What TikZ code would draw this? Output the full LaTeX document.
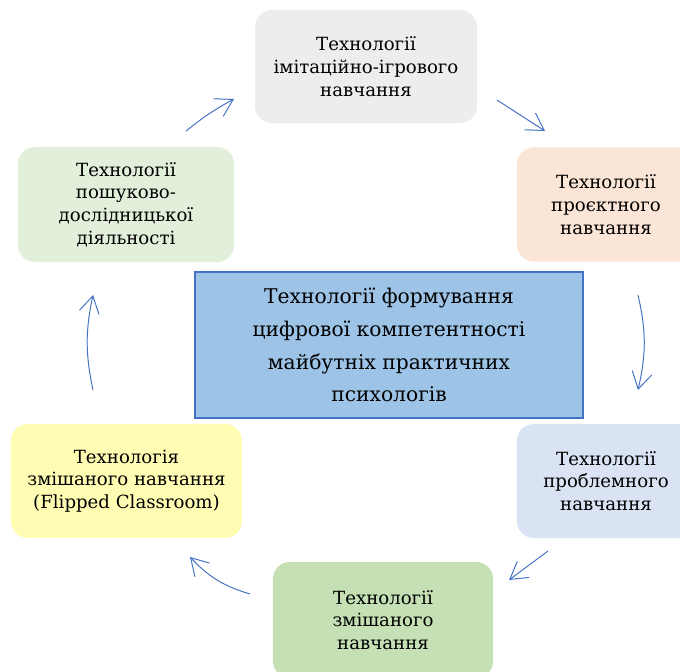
\documentclass[tikz,border=0pt]{standalone}
\usepackage{fontspec}
\setmainfont{DejaVu Serif}
\usetikzlibrary{arrows.meta}
\usepackage{xcolor}

\definecolor{imitfill}{HTML}{EDEDED}
\definecolor{projfill}{HTML}{FBE5D6}
\definecolor{searchfill}{HTML}{E2EFDA}
\definecolor{flipfill}{HTML}{FFFDB3}
\definecolor{problfill}{HTML}{DAE3F3}
\definecolor{blendfill}{HTML}{C5E0B4}
\definecolor{hubfill}{HTML}{9DC3E6}
\definecolor{hubedge}{HTML}{4472C4}
\definecolor{arrowblue}{HTML}{4472C4}

\begin{document}
\begin{tikzpicture}[x=0.025cm, y=0.025cm]
        % ================= 样式定义 =================
        % 圆角卡片:无边框,浅色填充
        \tikzset{
            card/.style={rounded corners=0.42cm, align=center, font=\fontsize{12.9}{16.2}\selectfont, minimum height=2.85cm},
            hub/.style={draw=hubedge, line width=2pt, fill=hubfill, align=center, font=\fontsize{14.4}{23.4}\selectfont},
            flow/.style={draw=arrowblue, line width=0.7pt, -{Straight Barb[length=0.42cm, width=0.5cm]}}
        }

        % ================= 画布范围 =================
        \useasboundingbox (0,0) rectangle (680,-672);
        \clip (0,0) rectangle (680,-672);

        % ================= 绘图部分 =================

        % 中心:蓝色矩形
        \node[hub, minimum width=9.7cm, minimum height=3.65cm] (core) at (389,-345) {Технології формування\\цифрової компетентності\\майбутніх практичних\\психологів};

        % 上方:灰色卡片
        \node[card, fill=imitfill, minimum width=5.55cm, minimum height=2.825cm] (imit) at (366,-66.5) {Технології\\імітаційно-ігрового\\навчання};

        % 右上:桃色卡片
        \node[card, fill=projfill, minimum width=4.45cm] (proj) at (606,-204.5) {Технології\\проєктного\\навчання};

        % 右下:淡蓝卡片
        \node[card, fill=problfill, minimum width=4.45cm] (probl) at (606,-481) {Технології\\проблемного\\навчання};

        % 下方:绿色卡片
        \node[card, fill=blendfill, minimum width=5.5cm, minimum height=2.9cm] (blend) at (383,-620) {Технології\\змішаного\\навчання};

        % 左下:黄色卡片
        \node[card, fill=flipfill, minimum width=5.775cm] (flip) at (126.5,-481) {Технологія\\змішаного навчання\\(Flipped Classroom)};

        % 左上:浅绿卡片
        \node[card, fill=searchfill, minimum width=5.4cm, minimum height=2.875cm] (search) at (126,-204.5) {Технології\\пошуково-\\дослідницької\\діяльності};

        % ================= 箭头 =================
        % 箭头的起止点
        \coordinate (s1) at (186,-131);  \coordinate (e1) at (234,-99);
        \coordinate (s2) at (497,-100);  \coordinate (e2) at (545,-131);
        \coordinate (s3) at (638,-295);  \coordinate (e3) at (638,-390);
        \coordinate (s4) at (548,-551);  \coordinate (e4) at (509,-580);
        \coordinate (s5) at (250,-594);  \coordinate (e5) at (190,-557);
        \coordinate (s6) at (93,-390);   \coordinate (e6) at (93,-295);

        \draw[flow] (s1) to[bend left=5] (e1);
        \draw[flow] (s2) to (e2);
        \draw[flow] (s3) to[bend left=13] (e3);
        \draw[flow] (s4) to (e4);
        \draw[flow] (s5) to[bend left=15] (e5);
        \draw[flow] (s6) to[bend left=12] (e6);

    \end{tikzpicture}
\end{document}
